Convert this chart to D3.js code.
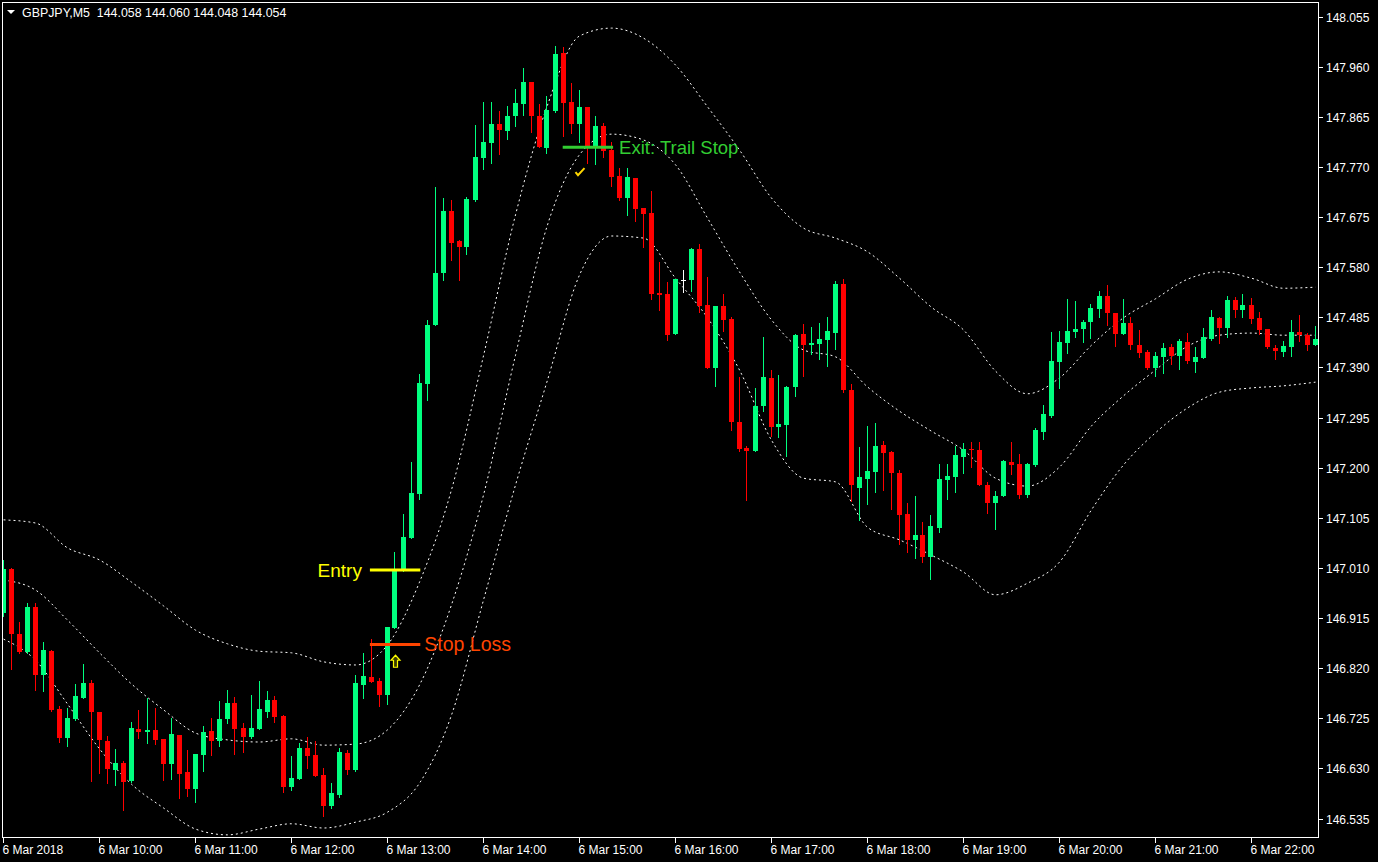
<!DOCTYPE html>
<html><head><meta charset="utf-8">
<script src="https://cdn.jsdelivr.net/npm/d3@7"></script>
<style>html,body{margin:0;padding:0;background:#000;overflow:hidden}svg{display:block}</style>
</head><body><svg id="c" width="1378" height="862"></svg>
<script>
// ---- data (GBPJPY M5, 6 Mar 2018 09:00 onward) ----
const opens=[146.924,147.008,146.885,146.851,146.936,146.807,146.852,146.742,146.688,146.724,
146.763,146.792,146.737,146.682,146.627,146.640,146.606,146.705,146.699,146.703,
146.686,146.638,146.693,146.623,146.591,146.655,146.701,146.682,146.724,146.754,
146.706,146.689,146.705,146.737,146.760,146.729,146.595,146.610,146.669,146.655,
146.617,146.559,146.580,146.659,146.627,146.788,146.803,146.796,146.769,146.896,
147.006,147.067,147.150,147.358,147.470,147.569,147.686,147.630,147.619,147.707,
147.787,147.815,147.851,147.838,147.866,147.889,147.931,147.866,147.806,147.876,
147.986,147.893,147.851,147.883,147.808,147.848,147.802,147.753,147.711,147.749,
147.692,147.683,147.531,147.529,147.453,147.556,147.556,147.614,147.508,147.389,
147.506,147.481,147.286,147.237,147.231,147.317,147.370,147.277,147.281,147.353,
147.453,147.432,147.434,147.442,147.455,147.548,147.347,147.161,147.178,147.192,
147.243,147.230,147.190,147.112,147.063,147.072,147.031,147.086,147.176,147.182,
147.220,147.235,147.233,147.167,147.133,147.146,147.210,147.207,147.148,147.205,
147.267,147.298,147.400,147.436,147.457,147.463,147.476,147.501,147.525,147.494,
147.453,147.474,147.432,147.419,147.389,147.410,147.429,147.412,147.438,147.400,
147.408,147.444,147.484,147.465,147.518,147.499,147.508,147.483,147.463,147.427,
147.419,147.429,147.457,147.451,147.432];
const highs=[147.025,147.009,146.907,146.943,146.943,146.870,146.854,146.748,146.744,146.790,
146.828,146.798,146.737,146.691,146.667,146.644,146.718,146.741,146.763,146.744,
146.686,146.725,146.693,146.665,146.657,146.710,146.725,146.758,146.779,146.765,
146.716,146.769,146.796,146.777,146.767,146.731,146.653,146.678,146.689,146.682,
146.631,146.602,146.669,146.665,146.807,146.849,146.875,146.801,146.898,147.040,
147.112,147.211,147.377,147.480,147.732,147.711,147.707,147.632,147.713,147.849,
147.893,147.893,147.876,147.885,147.918,147.957,147.931,147.889,147.904,147.999,
147.997,147.929,147.916,147.883,147.866,147.853,147.817,147.768,147.768,147.749,
147.692,147.724,147.590,147.552,147.558,147.575,147.616,147.624,147.562,147.506,
147.529,147.485,147.372,147.241,147.351,147.448,147.385,147.376,147.355,147.453,
147.472,147.466,147.474,147.485,147.554,147.558,147.358,147.239,147.279,147.285,
147.250,147.231,147.195,147.133,147.146,147.097,147.110,147.207,147.207,147.241,
147.246,147.248,147.248,147.173,147.156,147.214,147.248,147.226,147.209,147.275,
147.319,147.457,147.459,147.520,147.516,147.480,147.510,147.535,147.546,147.494,
147.520,147.485,147.461,147.423,147.419,147.436,147.434,147.444,147.455,147.429,
147.465,147.499,147.485,147.525,147.524,147.529,147.521,147.495,147.463,147.432,
147.440,147.480,147.489,147.455,147.468];
const lows=[146.919,146.818,146.849,146.849,146.779,146.777,146.739,146.680,146.672,146.722,
146.763,146.606,146.621,146.602,146.598,146.552,146.604,146.688,146.678,146.676,
146.608,146.610,146.574,146.578,146.566,146.625,146.655,146.672,146.716,146.657,
146.661,146.688,146.705,146.727,146.718,146.585,146.589,146.610,146.631,146.616,
146.540,146.555,146.576,146.619,146.625,146.763,146.794,146.748,146.752,146.896,
147.004,147.067,147.140,147.328,147.470,147.556,147.594,147.556,147.604,147.705,
147.766,147.778,147.795,147.823,147.848,147.868,147.836,147.808,147.797,147.874,
147.829,147.834,147.817,147.777,147.775,147.789,147.734,147.707,147.679,147.667,
147.619,147.520,147.499,147.441,147.453,147.533,147.535,147.495,147.389,147.355,
147.459,147.271,147.231,147.139,147.231,147.307,147.260,147.258,147.222,147.336,
147.374,147.415,147.405,147.393,147.425,147.343,147.137,147.101,147.131,147.154,
147.158,147.121,147.055,147.040,147.029,147.021,146.989,147.078,147.140,147.154,
147.190,147.201,147.167,147.114,147.084,147.146,147.188,147.142,147.144,147.203,
147.254,147.296,147.351,147.417,147.448,147.438,147.446,147.485,147.470,147.430,
147.453,147.425,147.410,147.387,147.374,147.379,147.396,147.387,147.398,147.381,
147.408,147.442,147.436,147.448,147.485,147.485,147.474,147.453,147.427,147.405,
147.412,147.412,147.440,147.423,147.432];
const closes=[147.008,146.885,146.851,146.936,146.807,146.854,146.741,146.688,146.725,146.767,
146.792,146.737,146.684,146.629,146.640,146.604,146.706,146.699,146.703,146.684,
146.638,146.695,146.619,146.591,146.657,146.699,146.682,146.724,146.754,146.705,
146.689,146.706,146.742,146.760,146.727,146.595,146.612,146.669,146.653,146.616,
146.559,146.583,146.661,146.627,146.792,146.805,146.794,146.769,146.898,147.004,
147.068,147.152,147.360,147.470,147.569,147.686,147.626,147.619,147.709,147.789,
147.817,147.851,147.840,147.866,147.891,147.931,147.866,147.808,147.878,147.984,
147.891,147.851,147.883,147.808,147.848,147.800,147.751,147.711,147.751,147.690,
147.681,147.529,147.527,147.451,147.558,147.556,147.614,147.506,147.389,147.506,
147.480,147.286,147.235,147.231,147.317,147.372,147.277,147.283,147.353,147.451,
147.432,147.436,147.444,147.459,147.548,147.347,147.167,147.182,147.194,147.241,
147.228,147.190,147.110,147.063,147.072,147.031,147.089,147.178,147.184,147.224,
147.235,147.233,147.167,147.133,147.146,147.212,147.205,147.148,147.207,147.271,
147.302,147.402,147.438,147.459,147.463,147.476,147.503,147.525,147.494,147.453,
147.474,147.432,147.417,147.389,147.412,147.427,147.412,147.440,147.402,147.410,
147.448,147.485,147.465,147.518,147.499,147.508,147.481,147.461,147.429,147.421,
147.430,147.457,147.451,147.432,147.444];

// Bollinger bands, sampled every 4 bars (bar 0,4,8,...,164)
const bandStep=4;
const upperBand=[147.101,147.095,147.048,147.025,146.983,146.938,146.892,146.866,146.852,146.849,146.832,146.826,146.864,146.983,147.158,147.412,147.679,147.887,148.018,148.033,148.014,147.963,147.884,147.802,147.711,147.654,147.635,147.609,147.559,147.504,147.461,147.383,147.340,147.370,147.432,147.484,147.520,147.557,147.571,147.559,147.540,147.542];
const middleBand=[146.987,146.968,146.911,146.849,146.790,146.741,146.697,146.684,146.680,146.686,146.674,146.676,146.703,146.788,146.940,147.148,147.413,147.660,147.793,147.832,147.821,147.774,147.673,147.571,147.480,147.423,147.410,147.353,147.307,147.269,147.233,147.180,147.165,147.201,147.279,147.336,147.385,147.430,147.451,147.455,147.451,147.451];
const lowerBand=[146.875,146.835,146.752,146.667,146.600,146.555,146.515,146.504,146.515,146.525,146.517,146.528,146.547,146.602,146.731,146.949,147.167,147.366,147.565,147.639,147.635,147.559,147.484,147.385,147.252,147.180,147.173,147.087,147.063,147.034,147.002,146.959,146.981,147.021,147.120,147.205,147.266,147.313,147.343,147.351,147.355,147.362];

const priceTicks=[148.055,147.960,147.865,147.770,147.675,147.580,147.485,147.390,147.295,147.200,147.105,147.010,146.915,146.820,146.725,146.630,146.535];
const timeTickBars=[0,12,24,36,48,60,72,84,96,108,120,132,144,156];
const timeTickLabels=["6 Mar 2018","6 Mar 10:00","6 Mar 11:00","6 Mar 12:00","6 Mar 13:00","6 Mar 14:00","6 Mar 15:00","6 Mar 16:00","6 Mar 17:00","6 Mar 18:00","6 Mar 19:00","6 Mar 20:00","6 Mar 21:00","6 Mar 22:00"];
const titleText="GBPJPY,M5  144.058 144.060 144.048 144.054";

// trade annotations
const entryTrade={label:"Entry",price:147.006,fromBar:45.8,toBar:52.1};
const stopTrade={label:"Stop Loss",price:146.865,fromBar:45.8,toBar:52.1};
const exitTrade={label:"Exit: Trail Stop",price:147.807,fromBar:69.9,toBar:76.2};
const buyArrow={bar:49,price:146.833};
const exitCheck={bar:72,price:147.760};

// ---- drawing ----
const svg=d3.select("#c");
const W=1378,H=862;
const plot={left:2,top:2,right:1318,bottom:837};
svg.append("rect").attr("width",W).attr("height",H).attr("fill","#000");

const x=d3.scaleLinear().domain([0,164]).range([3.5,1315.5]);
const y=d3.scaleLinear().domain([146.535,148.055]).range([818.5,16.5]);

svg.append("clipPath").attr("id","clip").append("rect")
  .attr("x",plot.left).attr("y",plot.top).attr("width",plot.right-plot.left).attr("height",plot.bottom-plot.top);
const g=svg.append("g").attr("clip-path","url(#clip)");

// bands
const bandLine=d3.line().x((d,i)=>x(i*bandStep)).y(d=>y(d)).curve(d3.curveMonotoneX);
[upperBand,middleBand,lowerBand].forEach(b=>{
  g.append("path").attr("d",bandLine(b)).attr("fill","none")
   .attr("stroke","#ffffff").attr("stroke-width",1).attr("stroke-dasharray","2,3");
});

// candles
const bars=opens.map((o,i)=>({i,o,h:highs[i],l:lows[i],c:closes[i]}));
const col=d=>d.c>d.o?"#00FF7F":(d.c<d.o?"#FF0000":"#FFFFFF");
const cg=g.append("g").attr("shape-rendering","crispEdges");
cg.selectAll("line.w").data(bars).join("line").attr("class","w")
  .attr("x1",d=>Math.round(x(d.i))-0.5).attr("x2",d=>Math.round(x(d.i))-0.5)
  .attr("y1",d=>Math.round(y(d.h))).attr("y2",d=>Math.round(y(d.l))+1)
  .attr("stroke",col).attr("stroke-width",1);
cg.selectAll("rect.b").data(bars).join("rect").attr("class","b")
  .attr("x",d=>Math.round(x(d.i))-3).attr("width",5)
  .attr("y",d=>Math.round(y(Math.max(d.o,d.c))))
  .attr("height",d=>Math.max(1,Math.round(y(Math.min(d.o,d.c)))-Math.round(y(Math.max(d.o,d.c)))))
  .attr("fill",col);

// trade lines and labels
function tradeLine(t,color,w){
  g.append("line").attr("x1",x(t.fromBar)).attr("x2",x(t.toBar))
   .attr("y1",y(t.price)).attr("y2",y(t.price)).attr("stroke",color).attr("stroke-width",w);
}
tradeLine(entryTrade,"#FFFF00",3);
tradeLine(stopTrade,"#FF4500",3);
tradeLine(exitTrade,"#32CD32",3);
const lf="'Liberation Sans', Arial, sans-serif";
svg.append("text").attr("x",x(entryTrade.fromBar)-8).attr("y",y(entryTrade.price)).attr("dy","0.36em")
  .attr("text-anchor","end").attr("fill","#FFFF00").attr("font-family",lf).attr("font-size",19).text(entryTrade.label);
svg.append("text").attr("x",x(stopTrade.toBar)+4).attr("y",y(stopTrade.price)).attr("dy","0.36em")
  .attr("fill","#FF4500").attr("font-family",lf).attr("font-size",19.5).text(stopTrade.label);
svg.append("text").attr("x",x(exitTrade.toBar)+6).attr("y",y(exitTrade.price)).attr("dy","0.36em")
  .attr("fill","#32CD32").attr("font-family",lf).attr("font-size",18.5).text(exitTrade.label);

// buy arrow (hollow)
svg.append("path").attr("transform",`translate(${x(buyArrow.bar)},${y(buyArrow.price)})`)
  .attr("d","M0,-6 L4.5,-1 L2,-1 L2,6 L-2,6 L-2,-1 L-4.5,-1 Z")
  .attr("fill","#3a3a00").attr("stroke","#FFFF00").attr("stroke-width",1.2);
// exit check mark
svg.append("path").attr("transform",`translate(${x(exitCheck.bar)},${y(exitCheck.price)})`)
  .attr("d","M-4,0 L-1.5,3 L5,-4").attr("fill","none").attr("stroke","#FFD700").attr("stroke-width",2);

// frame
svg.append("rect").attr("x",plot.left+0.5).attr("y",plot.top+0.5)
  .attr("width",plot.right-plot.left).attr("height",plot.bottom-plot.top)
  .attr("fill","none").attr("stroke","#fff").attr("stroke-width",1).attr("shape-rendering","crispEdges");

// price axis
const af="'Liberation Sans', Arial, sans-serif";
const pa=svg.append("g").attr("shape-rendering","crispEdges");
priceTicks.forEach(p=>{
  const yy=Math.round(y(p))+0.5;
  pa.append("line").attr("x1",plot.right+1).attr("x2",plot.right+5).attr("y1",yy).attr("y2",yy).attr("stroke","#fff");
  svg.append("text").attr("x",plot.right+8).attr("y",yy).attr("dy","0.36em")
    .attr("fill","#fff").attr("font-family",af).attr("font-size",12).text(d3.format(".3f")(p));
});
// time axis
timeTickBars.forEach((b,k)=>{
  const xx=Math.round(x(b))-0.5;
  pa.append("line").attr("x1",xx).attr("x2",xx).attr("y1",plot.bottom+1).attr("y2",plot.bottom+6).attr("stroke","#fff");
  svg.append("text").attr("x",xx-1).attr("y",854).attr("fill","#fff")
    .attr("font-family",af).attr("font-size",12).text(timeTickLabels[k]);
});

// title
svg.append("path").attr("d","M7,10 L15,10 L11,14 Z").attr("fill","#fff");
svg.append("text").attr("x",22).attr("y",17).attr("fill","#fff").attr("font-family",af)
  .attr("font-size",12.4).style("white-space","pre").text(titleText);
</script>
</body></html>
